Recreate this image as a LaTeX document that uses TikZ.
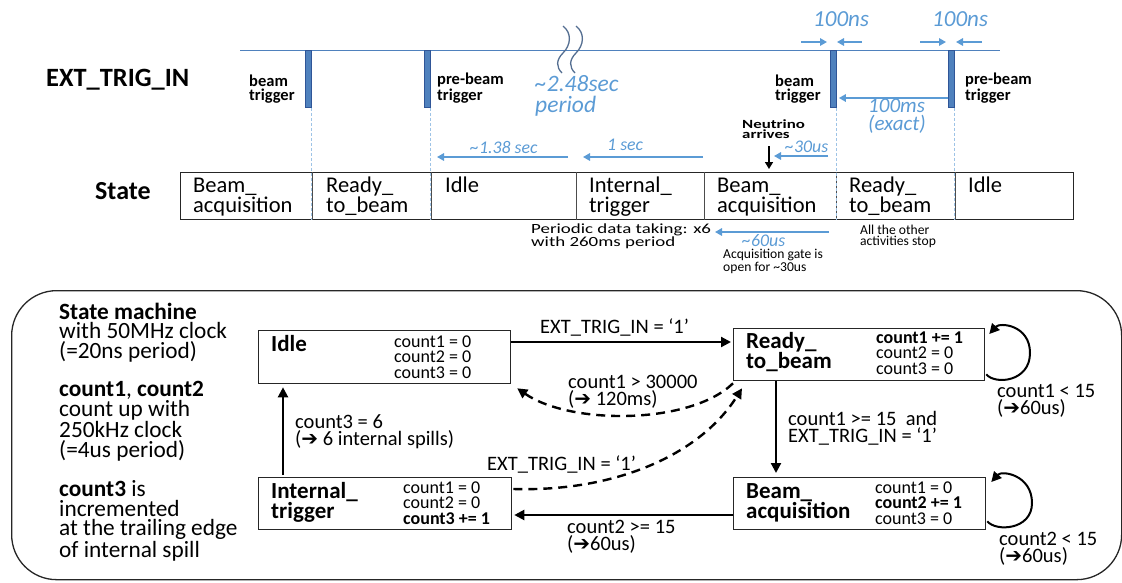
\documentclass[tikz,border=0pt]{standalone}
\usepackage{fontspec}
\setmainfont{Carlito}
\newfontfamily\wide[FakeStretch=1.35]{Carlito}
\newfontfamily\djv{DejaVu Sans}
\usetikzlibrary{arrows.meta,calc}
\definecolor{pfill}{RGB}{79,129,189}
\definecolor{pdraw}{RGB}{47,85,151}
\definecolor{tblue}{RGB}{91,155,213}
\definecolor{lblue}{RGB}{157,195,230}
\definecolor{wavec}{RGB}{84,110,145}
\newcommand\myfs[2]{\fontsize{#1}{#2}\selectfont}
\newcommand\harr{{\djv\bfseries\fontsize{20}{15}\selectfont ➔}}
\tikzset{
 lbl/.style={inner sep=0pt, anchor=base west, align=left},
 pulse/.style={draw=pdraw, fill=pfill, line width=0.9pt, inner sep=0pt, anchor=north west, minimum width=6pt, minimum height=57pt},
 bluearr/.style={draw=tblue, line width=1.6pt, -{Triangle[length=7pt,width=7.5pt]}},
 bluetxt/.style={lbl, text=tblue, font=\myfs{17.8}{17}\itshape},
 trig/.style={lbl, font=\myfs{16.5}{13.5}\bfseries},
 note/.style={lbl, font=\myfs{13.6}{11.5}},
 vdash/.style={draw=lblue, line width=0.9pt, dash pattern=on 3pt off 2pt},
 wave/.style={draw=wavec, line width=1.3pt},
 cell/.style={lbl, font=\myfs{22.5}{20}},
 sbox/.style={draw=black!85, line width=1.3pt, inner sep=0pt, anchor=north west},
 stitle/.style={lbl, font=\myfs{23}{20}\bfseries},
 cnt/.style={lbl, font=\myfs{18}{15.5}},
 elbl/.style={lbl, font=\myfs{20.5}{17}},
 desc/.style={lbl, font=\myfs{23.3}{19.7}},
 sarr/.style={draw=black, line width=2.2pt, -{Triangle[length=10pt,width=10pt]}},
 darr/.style={draw=black, line width=2.4pt, dash pattern=on 9pt off 6pt, -{Triangle[length=10pt,width=10pt]}},
}
\begin{document}
\begin{tikzpicture}[x=1pt,y=-1pt]
\useasboundingbox (0,0) rectangle (1122,582);

% ---------- timeline ----------
\node[lbl, font=\myfs{26.4}{26}\bfseries] (extlbl) at (46,86) {EXT\_TRIG\_IN};
\node[lbl, font=\myfs{26}{26}\bfseries] (statelbl) at (95,199) {State};

\coordinate (tl0) at (240,50);
\coordinate (tl1) at (1000,50);
\draw[draw=pfill, line width=1pt] (tl0) -- (tl1);

\draw[wave] (563,26) .. controls (572,33) and (571,45) .. (563,53) .. controls (556,60) and (556,67) .. (562,73);
\draw[wave] (576,26) .. controls (585,33) and (584,45) .. (576,53) .. controls (569,60) and (569,67) .. (575,73);

\node[pulse] (p1) at (305,50) {};
\node[pulse] (p2) at (424,50) {};
\node[pulse] (p3) at (830,50) {};
\node[pulse] (p4) at (948,50) {};

\node[trig] (tb1) at (249,100) {beam\\trigger};
\node[trig] (tb2) at (437,100) {pre-beam\\trigger};
\node[trig] (tb3) at (775,100) {beam\\trigger};
\node[trig] (tb4) at (965,100) {pre-beam\\trigger};

\node[lbl, text=tblue, font=\myfs{23.5}{20.5}\itshape] (period) at (535,112) {\textasciitilde 2.48sec\\period};

\node[lbl, text=tblue, font=\myfs{23}{21}\itshape] (ns1) at (813,26) {100ns};
\node[lbl, text=tblue, font=\myfs{23}{21}\itshape] (ns2) at (932,26) {100ns};
\coordinate (n1a) at (801,42); \coordinate (n1b) at (827,42);
\coordinate (n1c) at (862,42); \coordinate (n1d) at (837,42);
\coordinate (n2a) at (920,42); \coordinate (n2b) at (946,42);
\coordinate (n2c) at (982,42); \coordinate (n2d) at (956,42);
\draw[bluearr] (n1a) -- (n1b);
\draw[bluearr] (n1c) -- (n1d);
\draw[bluearr] (n2a) -- (n2b);
\draw[bluearr] (n2c) -- (n2d);

\draw[bluearr] ($(p4.north west)+(0,48)$) -- ($(p3.north east)+(2,48)$);
\node[lbl, text=tblue, font=\myfs{21}{17.5}\itshape] (ms100) at (868,130) {100ms\\(exact)};

% state row
\node[sbox, minimum width=893pt, minimum height=47pt] (stbox) at (180,172) {};
\foreach \dx in {132,251,396,524,656,775}
  \draw[draw=black!70, line width=0.9pt] ($(stbox.north west)+(\dx,0)$) -- ($(stbox.south west)+(\dx,0)$);

\foreach \p in {p1,p2,p3,p4}
  \draw[vdash] ($(\p.south east)+(-0.5,0)$) -- ($(\p.south east |- stbox.south)+(-0.5,0)$);

\node[cell] (c1) at (193,212) {Beam\_\\acquisition};
\node[cell] (c2) at (326,212) {Ready\_\\to\_beam};
\node[cell] (c3) at (445,192) {Idle};
\node[cell] (c4) at (589,212) {Internal\_\\trigger};
\node[cell] (c5) at (717,212) {Beam\_\\acquisition};
\node[cell] (c6) at (849,212) {Ready\_\\to\_beam};
\node[cell] (c7) at (968,192) {Idle};

\coordinate (a1s) at (568,157); \coordinate (a1e) at (437,157);
\coordinate (a2s) at (703,157); \coordinate (a2e) at (583,157);
\coordinate (a3s) at (828,156); \coordinate (a3e) at (774,156);
\draw[bluearr] (a1s) -- (a1e);
\draw[bluearr] (a2s) -- (a2e);
\draw[bluearr] (a3s) -- (a3e);
\node[bluetxt] (t138) at (470,153) {\textasciitilde 1.38 sec};
\node[bluetxt] (t1s) at (607,150) {1 sec};
\node[bluetxt] (t30) at (785,152) {\textasciitilde 30us};

\node[lbl, font=\wide\myfs{12.5}{10.5}\bfseries] (neut) at (742,138.5) {Neutrino\\arrives};
\coordinate (nutop) at (769,146);
\draw[draw=black, line width=1.5pt, -{Triangle[length=7pt,width=8pt]}] (nutop) -- ($(stbox.north west)+(589,-3)$);

\node[lbl, font=\wide\myfs{14}{11.5}] (periodic) at (531,246.5) {Periodic data taking: x6\\with 260ms period};
\coordinate (a6s) at (829,232); \coordinate (a6e) at (715,232);
\draw[bluearr] (a6s) -- (a6e);
\node[bluetxt] (t60) at (742,246.5) {\textasciitilde 60us};
\node[note] (gate) at (723,271) {Acquisition gate is\\open for \textasciitilde 30us};
\node[note] (stop) at (860,245.5) {All the other\\activities stop};

% ---------- state machine ----------
\node[draw=black!85, line width=1.3pt, rounded corners=45pt, inner sep=0pt, anchor=north west, minimum width=1110pt, minimum height=289pt] (frame) at (11,290) {};

\node[desc] (desc1) at (59,358.4) {\textbf{State machine}\\with 50MHz clock\\(=20ns period)};
\node[desc] (desc2) at (59,457.1) {\textbf{count1}, \textbf{count2}\\count up with\\250kHz clock\\(=4us period)};
\node[desc] (desc3) at (59,557.1) {\textbf{count3} is\\incremented\\at the trailing edge\\of internal spill};

\node[sbox, minimum width=252pt, minimum height=53pt] (idle) at (258,330) {};
\node[sbox, minimum width=251pt, minimum height=52pt] (ready) at (733,328) {};
\node[sbox, minimum width=253pt, minimum height=52pt] (internal) at (258,477) {};
\node[sbox, minimum width=252pt, minimum height=52pt] (beam) at (733,477) {};

\node[stitle] (idlet) at (271,351) {Idle};
\node[stitle] (readyt) at (746,368.5) {Ready\_\\to\_beam};
\node[stitle] (internalt) at (271,518) {Internal\_\\trigger};
\node[stitle] (beamt) at (746,518) {Beam\_\\acquisition};

\node[cnt] (idlec) at (394,378) {count1 = 0\\count2 = 0\\count3 = 0};
\node[cnt] (readyc) at (876,374) {\textbf{count1 += 1}\\count2 = 0\\count3 = 0};
\node[cnt] (internalc) at (403,524) {count1 = 0\\count2 = 0\\\textbf{count3 += 1}};
\node[cnt] (beamc) at (875,524) {count1 = 0\\\textbf{count2 += 1}\\count3 = 0};

% transitions
\draw[sarr] ($(idle.north east)+(0,12)$) -- ($(ready.north west)+(-2,14)$);
\node[elbl] (e1) at (540,333) {EXT\_TRIG\_IN = ‘1’};

\draw[sarr] ($(ready.south west)+(43,0)$) -- ($(beam.north west)+(43,-4)$);
\node[elbl] (e2) at (788,442) {count1 >= 15~ and\\EXT\_TRIG\_IN = ‘1’};

\draw[sarr] ($(beam.north west)+(0,38)$) -- ($(internal.north east)+(2,38)$);
\node[elbl] (e3) at (567,550) {count2 >= 15\\(\harr60us)};

\draw[sarr] ($(internal.north west)+(25,-2)$) -- ($(idle.south west)+(25,3)$);
\node[elbl] (e4) at (295,445) {count3 = 6\\(\harr\ 6 internal spills)};

\draw[darr] ($(ready.south west)+(0,2)$) .. controls (690,425) and (570,425) .. ($(idle.south east)+(6,4)$);
\node[elbl] (e5) at (568,405) {count1 > 30000\\(\harr\ 120ms)};

\draw[darr] ($(internal.north east)+(1,12)$) .. controls (615,492) and (700,455) .. ($(ready.south west)+(9,7)$);
\node[elbl] (e6) at (487,470) {EXT\_TRIG\_IN = ‘1’};

\draw[sarr, line width=2pt] ($(ready.south east)+(1,-7)$) .. controls (995,385) and (1030,382) .. (1030,353) .. controls (1030,325) and (1000,322) .. ($(ready.north east)+(4,6)$);
\node[elbl] (e7) at (997,414) {count1 < 15\\(\harr60us)};

\draw[sarr, line width=2pt] ($(beam.south east)+(1,-9)$) .. controls (996,532) and (1032,530) .. (1032,503) .. controls (1032,475) and (1002,470) .. ($(beam.north east)+(5,5)$);
\node[elbl] (e8) at (999,562) {count2 < 15\\(\harr60us)};
\end{tikzpicture}
\end{document}
